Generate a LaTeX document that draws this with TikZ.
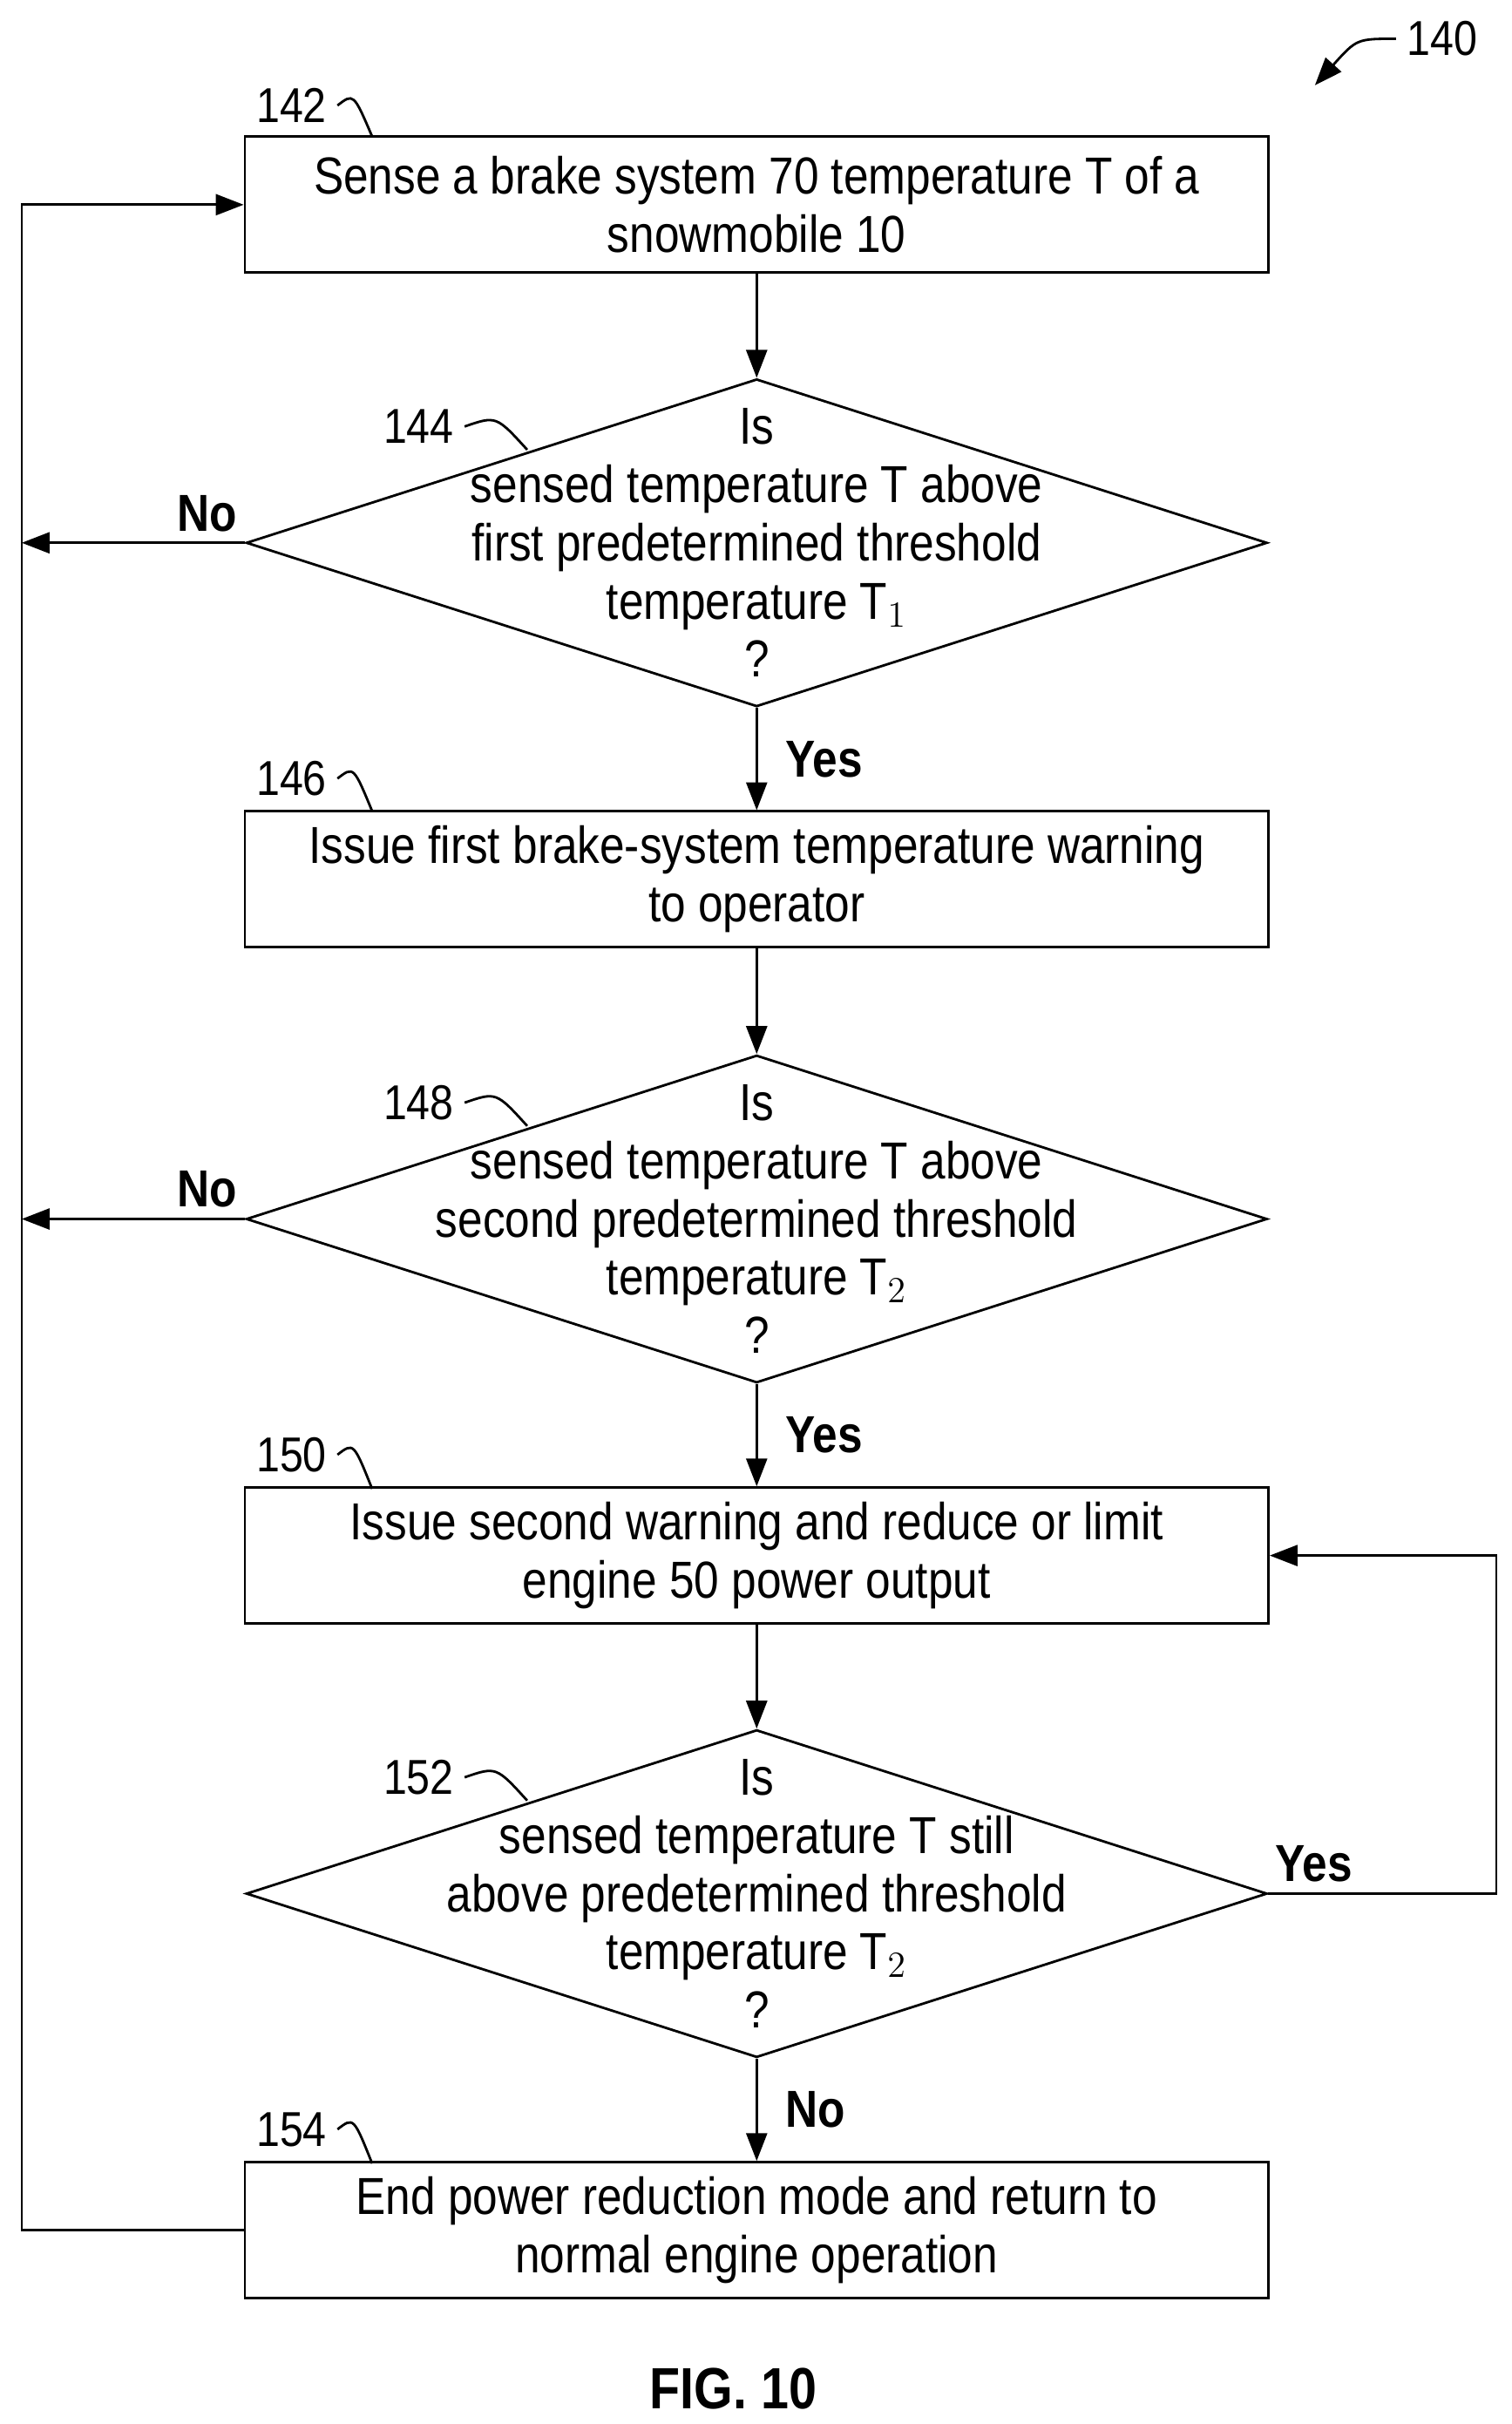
\documentclass[tikz,border=0pt]{standalone}
\usepackage{fontspec}
\setmainfont{Liberation Sans}[FakeStretch=0.86]
\usetikzlibrary{shapes.geometric,arrows.meta}
\tikzset{
  stepbox/.style={draw,thick,minimum width=117.5mm,minimum height=15.6mm,inner sep=0pt},
  choice/.style={draw,thick,diamond,minimum width=117.2mm,minimum height=37.6mm,inner sep=0pt},
  txt/.style={align=center,font=\fontsize{17}{19}\selectfont},
  ans/.style={font=\bfseries\fontsize{17}{19}\selectfont},
  refno/.style={font=\fontsize{16}{18}\selectfont},
  flow/.style={thick,-{Triangle[length=3.2mm,width=2.4mm]}}
}
\begin{document}
\begin{tikzpicture}[x=0.178mm,y=-0.178mm]
  \useasboundingbox (0,0) rectangle (975,1563);

  % boxes and decisions
  \node[stepbox,txt] (s142) at (488,132) {Sense a brake system 70 temperature T of a\\snowmobile 10};
  \node[choice] (d144) at (488,350) {};
  \node[txt] (t144) at (488,350) {Is\\sensed temperature T above\\first predetermined threshold\\temperature T$_1$\\?};
  \node[stepbox,txt] (s146) at (488,567) {Issue first brake-system temperature warning\\to operator};
  \node[choice] (d148) at (488,786) {};
  \node[txt] (t148) at (488,786) {Is\\sensed temperature T above\\second predetermined threshold\\temperature T$_2$\\?};
  \node[stepbox,txt] (s150) at (488,1003) {Issue second warning and reduce or limit\\engine 50 power output};
  \node[choice] (d152) at (488,1221) {};
  \node[txt] (t152) at (488,1221) {Is\\sensed temperature T still\\above predetermined threshold\\temperature T$_2$\\?};
  \node[stepbox,txt] (s154) at (488,1438) {End power reduction mode and return to\\normal engine operation};

  \coordinate (l142) at (14,132);
  \coordinate (l144) at (14,350);
  \coordinate (l148) at (14,786);
  \coordinate (l154) at (14,1438);
  \coordinate (r152) at (965,1221);
  \coordinate (r150) at (965,1003);

  % main flow
  \draw[flow] (s142) -- (d144);
  \draw[flow] (d144) -- node[ans,right=2mm] {Yes} (s146);
  \draw[flow] (s146) -- (d148);
  \draw[flow] (d148) -- node[ans,right=2mm] {Yes} (s150);
  \draw[flow] (s150) -- (d152);
  \draw[flow] (d152) -- node[ans,right=2mm] {No} (s154);

  % returns
  \draw[flow] (d144.west) -- node[ans,pos=0.17,above] {No} (l144);
  \draw[flow] (d148.west) -- node[ans,pos=0.17,above] {No} (l148);
  \draw[flow] (s154.west) -- (l154) -- (l142) -- (s142.west);
  \draw[flow] (d152.east) -- node[ans,pos=0.2,above] {Yes} (r152) -- (r150) -- (s150.east);

  % reference numerals
  \node[refno] (n142) at (188,68) {142};
  \draw[thick] (n142.east) .. controls (228,60) .. (240,88);
  \node[refno] (n144) at (270,275) {144};
  \draw[thick] (n144.east) .. controls (320,268) .. (340,290);
  \node[refno] (n146) at (188,502) {146};
  \draw[thick] (n146.east) .. controls (228,494) .. (240,523);
  \node[refno] (n148) at (270,711) {148};
  \draw[thick] (n148.east) .. controls (320,704) .. (340,726);
  \node[refno] (n150) at (188,938) {150};
  \draw[thick] (n150.east) .. controls (228,930) .. (240,960);
  \node[refno] (n152) at (270,1146) {152};
  \draw[thick] (n152.east) .. controls (320,1139) .. (340,1161);
  \node[refno] (n154) at (188,1373) {154};
  \draw[thick] (n154.east) .. controls (228,1365) .. (240,1395);
  \node[refno] (n140) at (930,25) {140};
  \draw[flow] (n140.west) .. controls (875,25) .. (848,55);

  \node[font=\bfseries\fontsize{19}{21}\selectfont] (fig) at (473,1540) {FIG. 10};
\end{tikzpicture}
\end{document}
